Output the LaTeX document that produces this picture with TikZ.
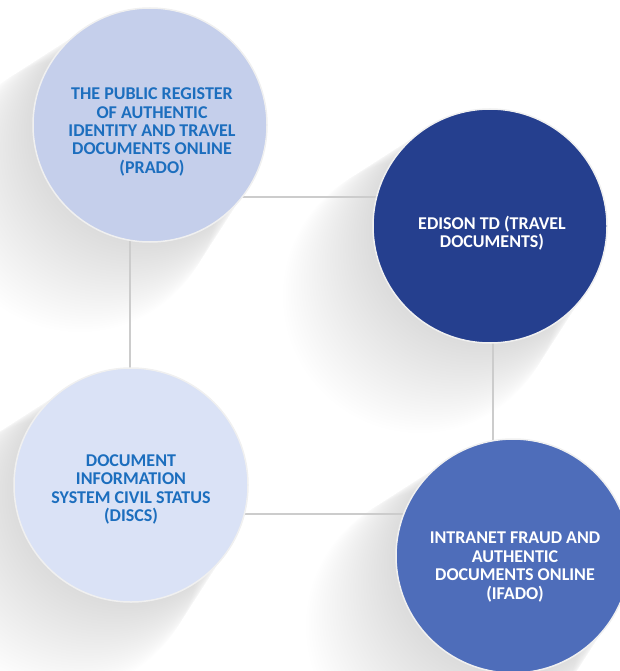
\documentclass[tikz,border=0pt]{standalone}
\usepackage{fontspec}
\setmainfont{Carlito}
\usetikzlibrary{calc}
\pgfdeclarelayer{shadowlayer}
\pgfdeclarelayer{linelayer}
\pgfsetlayers{shadowlayer,linelayer,main}
\definecolor{cOne}{HTML}{C5CFEB}
\definecolor{cTwo}{HTML}{253F8E}
\definecolor{cThree}{HTML}{DAE2F6}
\definecolor{cFour}{HTML}{4E6DBA}
\definecolor{txtBlue}{HTML}{1C6EBE}
\definecolor{lineGray}{HTML}{CCCCCC}
\tikzset{
  bubble/.style={circle, minimum size=234pt, inner sep=0pt, draw=white!88!gray, line width=1.5pt},
  label/.style={align=center, font=\bfseries\fontsize{18pt}{18.4pt}\selectfont, inner sep=0pt},
  conn/.style={draw=lineGray, line width=2pt},
}
\begin{document}
\begin{tikzpicture}[x=1pt,y=-1pt]
\useasboundingbox (0,0) rectangle (619,671);
\node[bubble, fill=cOne] (c1) at (150,125) {};
\node[bubble, fill=cTwo] (c2) at (490,226) {};
\node[bubble, fill=cThree] (c3) at (131,485) {};
\node[bubble, fill=cFour] (c4) at (513,556) {};
\node[label, text=txtBlue] (t1) at (152,132) {THE PUBLIC REGISTER\\OF AUTHENTIC\\IDENTITY AND TRAVEL\\DOCUMENTS ONLINE\\(PRADO)};
\node[label, text=white] (t2) at (492,233) {EDISON TD (TRAVEL\\DOCUMENTS)};
\node[label, text=txtBlue] (t3) at (131,489.5) {DOCUMENT\\INFORMATION\\SYSTEM CIVIL STATUS\\(DISCS)};
\node[label, text=white] (t4) at (515,567) {INTRANET FRAUD AND\\AUTHENTIC\\DOCUMENTS ONLINE\\(IFADO)};
\coordinate (ytop) at (0,197);
\coordinate (ybot) at (0,514);
\coordinate (xleft) at (129.5,0);
\coordinate (xright) at (493,0);
\begin{pgfonlayer}{linelayer}
\draw[conn] (c1 |- ytop) -- (c2 |- ytop);
\draw[conn] (xleft |- c1) -- (xleft |- c3);
\draw[conn] (xright |- c2) -- (xright |- c4);
\draw[conn] (c3 |- ybot) -- (c4 |- ybot);
\end{pgfonlayer}
\begin{pgfonlayer}{shadowlayer}
\foreach \c in {c1,c2,c3,c4}{
  \foreach \k in {1,...,35}{
    \fill[black, opacity=0.004] ($(\c.center)+(-2*\k pt,-2*\k pt)$) circle[radius={116pt+0.6pt*\k}];
  }
}
\end{pgfonlayer}
\end{tikzpicture}
\end{document}
